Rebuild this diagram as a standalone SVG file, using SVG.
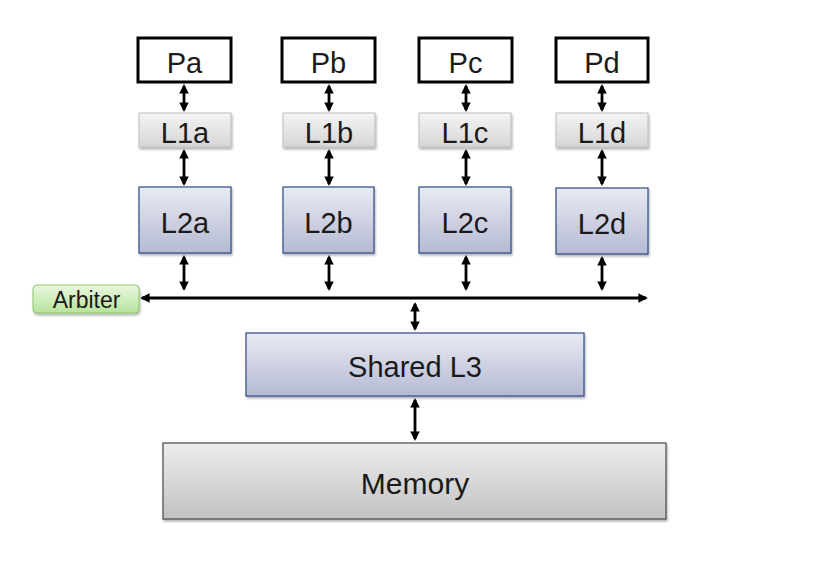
<svg xmlns="http://www.w3.org/2000/svg" width="817" height="574" viewBox="0 0 817 574">
<defs>
<linearGradient id="gL1" x1="0" y1="0" x2="0" y2="1"><stop offset="0" stop-color="#f4f4f4"/><stop offset="1" stop-color="#d6d6d6"/></linearGradient>
<linearGradient id="gL2" x1="0" y1="0" x2="0" y2="1"><stop offset="0" stop-color="#e9eaf2"/><stop offset="1" stop-color="#b5bad3"/></linearGradient>
<linearGradient id="gMem" x1="0" y1="0" x2="0" y2="1"><stop offset="0" stop-color="#ededed"/><stop offset="1" stop-color="#c2c2c2"/></linearGradient>
<linearGradient id="gArb" x1="0" y1="0" x2="0" y2="1"><stop offset="0" stop-color="#eaf8df"/><stop offset="1" stop-color="#b7e29c"/></linearGradient>
<filter id="sh" x="-10%" y="-10%" width="130%" height="140%"><feDropShadow dx="1" dy="2" stdDeviation="1.2" flood-color="#000" flood-opacity="0.3"/></filter>
<marker id="ah" viewBox="0 0 10 10" refX="8" refY="5" markerWidth="3.4" markerHeight="3.4" orient="auto-start-reverse" markerUnits="strokeWidth"><path d="M0,0 L10,5 L0,10 z" fill="#000"/></marker>
</defs>
<style>
text{font-family:"Liberation Sans",Arial,sans-serif;fill:#1a1a1a;text-anchor:middle}
.p{fill:#fff;stroke:#000;stroke-width:3}
.l1{fill:url(#gL1);stroke:#bdbdbd;stroke-width:1;filter:url(#sh)}
.l2{fill:url(#gL2);stroke:#2e4a86;stroke-width:1.2;filter:url(#sh)}
.mem{fill:url(#gMem);stroke:#4a4a4a;stroke-width:1.2;filter:url(#sh)}
.arb{fill:url(#gArb);stroke:#8cc66c;stroke-width:1;filter:url(#sh)}
.big{font-size:29px}
.c{stroke:#000;stroke-width:2.8;fill:none;marker-start:url(#ah);marker-end:url(#ah)}
</style>
<g id="Pa"><rect class="p" x="138" y="38" width="93" height="44"/><text class="big" x="184.5" y="72.5">Pa</text></g>
<g id="Pb"><rect class="p" x="282" y="38" width="93" height="44"/><text class="big" x="328.5" y="72.5">Pb</text></g>
<g id="Pc"><rect class="p" x="419" y="38" width="93" height="44"/><text class="big" x="465.5" y="72.5">Pc</text></g>
<g id="Pd"><rect class="p" x="556" y="38" width="92" height="44"/><text class="big" x="602" y="72.5">Pd</text></g>
<g id="L1a"><rect class="l1" x="139" y="113" width="92" height="34"/><text class="big" x="185" y="143">L1a</text></g>
<g id="L1b"><rect class="l1" x="283" y="113" width="92" height="34"/><text class="big" x="329" y="143">L1b</text></g>
<g id="L1c"><rect class="l1" x="419" y="113" width="92" height="34"/><text class="big" x="465" y="143">L1c</text></g>
<g id="L1d"><rect class="l1" x="556" y="113" width="92" height="34"/><text class="big" x="602" y="143">L1d</text></g>
<g id="L2a"><rect class="l2" x="139" y="187" width="92" height="66"/><text class="big" x="185" y="233">L2a</text></g>
<g id="L2b"><rect class="l2" x="283" y="187" width="91" height="66"/><text class="big" x="328.5" y="233">L2b</text></g>
<g id="L2c"><rect class="l2" x="419" y="187" width="92" height="66"/><text class="big" x="465" y="233">L2c</text></g>
<g id="L2d"><rect class="l2" x="556" y="188" width="92" height="66"/><text class="big" x="602" y="234">L2d</text></g>
<g id="Arbiter"><rect class="arb" x="33" y="285" width="106" height="28" rx="4"/><text x="86.5" y="308" font-size="23">Arbiter</text></g>
<g id="SharedL3"><rect class="l2" x="246" y="333" width="338" height="63"/><text class="big" x="415" y="377">Shared L3</text></g>
<g id="Memory"><rect class="mem" x="163" y="443" width="503" height="76"/><text x="415" y="494" font-size="30">Memory</text></g>
<g id="connectors">
<line class="c" x1="184" y1="86" x2="184" y2="110"/>
<line class="c" x1="329" y1="86" x2="329" y2="110"/>
<line class="c" x1="466" y1="86" x2="466" y2="110"/>
<line class="c" x1="602" y1="86" x2="602" y2="110"/>
<line class="c" x1="184" y1="151" x2="184" y2="184"/>
<line class="c" x1="329" y1="151" x2="329" y2="184"/>
<line class="c" x1="466" y1="151" x2="466" y2="184"/>
<line class="c" x1="602" y1="151" x2="602" y2="184"/>
<line class="c" x1="184" y1="257" x2="184" y2="289"/>
<line class="c" x1="329" y1="257" x2="329" y2="289"/>
<line class="c" x1="466" y1="257" x2="466" y2="289"/>
<line class="c" x1="602" y1="258" x2="602" y2="289"/>
<line class="c" x1="142" y1="298" x2="646" y2="298"/>
<line class="c" x1="415" y1="304" x2="415" y2="329"/>
<line class="c" x1="415" y1="400" x2="415" y2="439"/>
</g>
</svg>
